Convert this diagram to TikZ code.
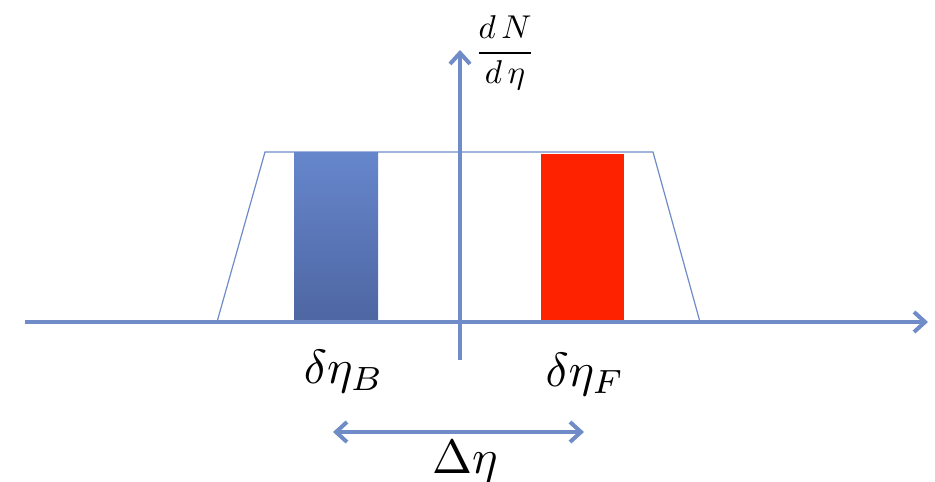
\documentclass[tikz,border=0pt]{standalone}
\usepackage{graphicx}
\usetikzlibrary{arrows.meta}
\definecolor{axisblue}{HTML}{6F8CC8}
\definecolor{bartop}{HTML}{6686CC}
\definecolor{barbot}{HTML}{4E66A2}
\definecolor{barred}{HTML}{FF2200}
\tikzset{
  barb/.tip={Straight Barb[length=11pt,width=20pt,line width=4pt]},
  axisline/.style={draw=axisblue, line width=3.5pt, -barb},
  twoway/.style={draw=axisblue, line width=3.5pt, barb-barb},
  outline/.style={draw=axisblue, line width=1.2pt},
  lbl/.style={inner sep=0pt}
}
\begin{document}
\begin{tikzpicture}[x=1pt,y=-1pt]
\useasboundingbox[fill=white] (0,0) rectangle (935,482);
% trapezoid
\draw[outline] (217,322) -- (265,152) -- (653,152) -- (700,322);
% bars
\shade[top color=bartop, bottom color=barbot] (294,152) rectangle (378,322);
\fill[barred] (541,154) rectangle (624,322);
% axes
\coordinate (xs) at (25,322);
\coordinate (xe) at (928,322);
\coordinate (ys) at (460,360);
\coordinate (ye) at (460,50);
\draw[axisline] (xs) -- (xe);
\draw[axisline] (ys) -- (ye);
% labels
\node[lbl] (dN) at (505,53) {\scalebox{3.3}{$\displaystyle\frac{d\,N}{d\,\eta}$}};
\node[lbl] (dB) at (344,371) {\scalebox{4.8}{$\delta\eta_B$}};
\node[lbl] (dF) at (585,374) {\scalebox{4.8}{$\delta\eta_F$}};
% Delta eta arrow
\coordinate (da) at (333,432);
\coordinate (db) at (584,432);
\draw[twoway] (da) -- (db);
\node[lbl] (De) at (465,462) {\scalebox{4.8}{$\Delta\eta$}};
\end{tikzpicture}
\end{document}
